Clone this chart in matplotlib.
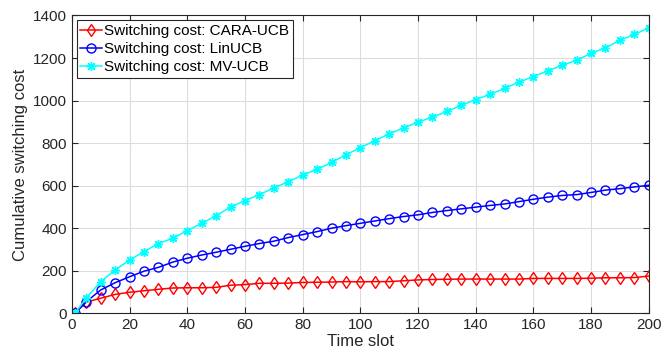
import matplotlib
matplotlib.use("Agg")
import matplotlib.pyplot as plt

# time slots where the curves are sampled
slots = [1] + list(range(5, 201, 5))

cara_ucb = [0, 53, 71, 89, 99, 106, 113, 119, 120, 120, 122, 132, 135, 141, 141, 142, 145,
            146, 147, 149, 148, 149, 149, 153, 157, 159, 160, 161, 161, 161, 161, 161, 164,
            164, 164, 164, 165, 167, 167, 168, 175]
lin_ucb = [0, 55, 110, 144, 172, 198, 216, 241, 259, 274, 287, 301, 315, 328, 339, 356, 370,
           384, 400, 412, 423, 434, 445, 455, 463, 474, 483, 491, 499, 507, 514, 525, 536,
           546, 554, 558, 568, 579, 586, 594, 602]
mv_ucb = [0, 73, 149, 204, 251, 290, 328, 353, 389, 423, 459, 499, 530, 558, 590, 618, 650,
          677, 709, 745, 779, 811, 844, 871, 899, 922, 949, 977, 1005, 1029, 1057, 1087, 1112,
          1140, 1165, 1190, 1222, 1248, 1283, 1311, 1341]

plt.rcParams["font.family"] = ["Liberation Sans", "DejaVu Sans"]

fig = plt.figure(figsize=(6.64, 3.6), dpi=100)
ax = fig.add_axes([0.1084, 0.1297, 0.8686, 0.8273])

ax.plot(slots, cara_ucb, color="#ff0000", marker="d", markersize=6.5, markerfacecolor="none",
        linewidth=1.1, label="Switching cost: CARA-UCB")
ax.plot(slots, lin_ucb, color="#0000ff", marker="o", markersize=6.5, markerfacecolor="none",
        linewidth=1.1, label="Switching cost: LinUCB")
ax.plot(slots, mv_ucb, color="#00ffff", marker=(8, 2, 0), markersize=6.5,
        linewidth=1.1, label="Switching cost: MV-UCB")

ax.set_xlim(0, 200)
ax.set_ylim(0, 1400)
ax.set_xticks(range(0, 201, 20))
ax.set_yticks(range(0, 1401, 200))
ax.grid(True, color="#dcdcdc", linewidth=0.8)
ax.set_axisbelow(True)
ax.tick_params(direction="in", top=True, right=True, labelsize=11, colors="#262626",
               length=4)
for s in ax.spines.values():
    s.set_color("#262626")
    s.set_linewidth(0.8)

ax.set_xlabel("Time slot", fontsize=12, color="#262626", labelpad=1)
ax.set_ylabel("Cumulative switching cost", fontsize=12, color="#262626", labelpad=4)

leg = ax.legend(loc="upper left", fontsize=11, fancybox=False, framealpha=1,
                edgecolor="#262626", borderpad=0.25, labelspacing=0.28,
                handlelength=1.4, handletextpad=0.15, borderaxespad=0.3)
leg.get_frame().set_linewidth(0.8)

fig.savefig("out.png", dpi=100)
